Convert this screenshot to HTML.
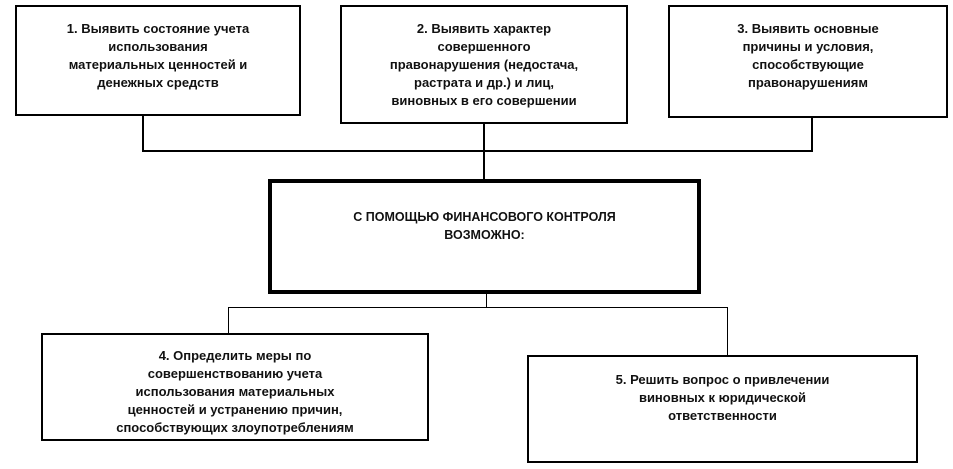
<!DOCTYPE html>
<html><head><meta charset="utf-8"><style>
body{margin:0;width:953px;height:469px;background:#fff;position:relative;overflow:hidden;font-family:"Liberation Sans",Arial,sans-serif;}
.b{position:absolute;box-sizing:border-box;border:2px solid #000;background:#fff;text-align:center;font-size:13px;font-weight:bold;line-height:18px;color:#111;}
.l{position:absolute;background:#000;}
</style></head><body>
<div class="l" style="left:142px;top:114px;width:2px;height:38px"></div>
<div class="l" style="left:811px;top:116px;width:2px;height:36px"></div>
<div class="l" style="left:142px;top:150px;width:671px;height:2px"></div>
<div class="l" style="left:483px;top:122px;width:2px;height:58px"></div>
<div class="l" style="left:486px;top:292px;width:1px;height:16px"></div>
<div class="l" style="left:228px;top:307px;width:500px;height:1px"></div>
<div class="l" style="left:228px;top:307px;width:1px;height:27px"></div>
<div class="l" style="left:727px;top:307px;width:1px;height:49px"></div>

<div class="b" style="left:15px;top:5px;width:286px;height:111px;padding-top:13px">1. Выявить состояние учета<br>использования<br>материальных ценностей и<br>денежных средств</div>
<div class="b" style="left:340px;top:5px;width:288px;height:119px;padding-top:13px">2. Выявить характер<br>совершенного<br>правонарушения (недостача,<br>растрата и др.) и лиц,<br>виновных в его совершении</div>
<div class="b" style="left:668px;top:5px;width:280px;height:113px;padding-top:13px">3. Выявить основные<br>причины и условия,<br>способствующие<br>правонарушениям</div>
<div class="b" style="left:268px;top:179px;width:433px;height:115px;border-width:4px;padding-top:25px;font-size:12.5px">С ПОМОЩЬЮ ФИНАНСОВОГО КОНТРОЛЯ<br>ВОЗМОЖНО:</div>
<div class="b" style="left:41px;top:333px;width:388px;height:108px;padding-top:12px">4. Определить меры по<br>совершенствованию учета<br>использования материальных<br>ценностей и устранению причин,<br>способствующих злоупотреблениям</div>
<div class="b" style="left:527px;top:355px;width:391px;height:108px;padding-top:14px">5. Решить вопрос о привлечении<br>виновных к юридической<br>ответственности</div>
</body></html>
